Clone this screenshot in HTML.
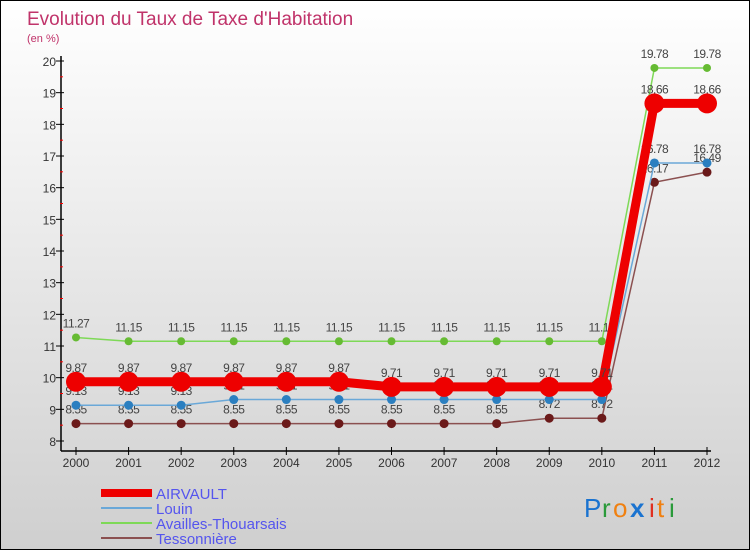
<!DOCTYPE html>
<html><head><meta charset="utf-8"><style>
body{margin:0;}
#wrap{width:748px;height:548px;border:1px solid #000;background:linear-gradient(#ffffff,#cfcfcf);position:relative;font-family:"Liberation Sans",sans-serif;overflow:hidden}
svg{position:absolute;left:0;top:0}
</style></head><body>
<div id="wrap">
<svg id="c" width="750" height="550">
<text x="26" y="24" font-size="19" fill="#c0336a">Evolution du Taux de Taxe d'Habitation</text>
<text x="26" y="41" font-size="11" fill="#c0336a">(en %)</text>
<g id="axes"></g><g id="series"></g><g id="legend"></g>
<g font-size="26" font-family="'Liberation Sans',sans-serif">
<text x="583" y="516" fill="#1a73d0">P</text><text x="601" y="516" fill="#2a9a3a">r</text><text x="612" y="516" fill="#f08010">o</text><text x="629" y="516" fill="#1a73d0" font-weight="bold">x</text><text x="648" y="516" fill="#e03020">i</text><text x="656" y="516" fill="#f08010">t</text><text x="668" y="516" fill="#2a9a3a">i</text>
</g>
</svg></div>
<script>
const years=["2000","2001","2002","2003","2004","2005","2006","2007","2008","2009","2010","2011","2012"];
const airvault=[9.87,9.87,9.87,9.87,9.87,9.87,9.71,9.71,9.71,9.71,9.71,18.66,18.66];
const louin=[9.13,9.13,9.13,9.31,9.31,9.31,9.31,9.31,9.31,9.31,9.31,16.78,16.78];
const availles=[11.27,11.15,11.15,11.15,11.15,11.15,11.15,11.15,11.15,11.15,11.15,19.78,19.78];
const tesso=[8.55,8.55,8.55,8.55,8.55,8.55,8.55,8.55,8.55,8.72,8.72,16.17,16.49];
const yTicks=[8,9,10,11,12,13,14,15,16,17,18,19,20];
const NS="http://www.w3.org/2000/svg";
const X=i=>75+i*(706-75)/(years.length-1);
const Y=v=>440-(v-8)*(380/12);
function mk(tag,attrs,parent,txt){const e=document.createElementNS(NS,tag);for(const k in attrs)e.setAttribute(k,attrs[k]);if(txt!==undefined)e.textContent=txt;parent.appendChild(e);return e;}
const ax=document.getElementById('axes');
let l=mk('line',{x1:60,y1:55,x2:60,y2:450,stroke:'#000','stroke-width':1.5},ax);

l=mk('line',{x1:60,y1:450,x2:710,y2:450,stroke:'#000','stroke-width':1.5},ax);

yTicks.forEach(v=>{mk('line',{x1:55,y1:Y(v),x2:63,y2:Y(v),stroke:'#000'},ax);
 if(v<20)mk('line',{x1:59,y1:Y(v+0.5),x2:62,y2:Y(v+0.5),stroke:'#f00'},ax);
 const t=mk('text',{x:55,y:Y(v)+5,'text-anchor':'end','font-size':12,fill:'#333'},ax,String(v));
 });
years.forEach((y,i)=>{mk('line',{x1:X(i),y1:446,x2:X(i),y2:454,stroke:'#000'},ax);
 const t=mk('text',{x:X(i),y:466,'text-anchor':'middle','font-size':12,fill:'#333'},ax,y);
 });
const sg=document.getElementById('series');
const defs=[[availles,'#7ed957','#66bb33',1.5,4,'availles'],[tesso,'#8b5050','#6b1a1a',1.5,4.5,'tessonniere'],[louin,'#6aa8d8','#2b7fc0',1.5,4.5,'louin'],[airvault,'#ee0000','#ee0000',9,10,'airvault']];
defs.forEach(([d,lc,pc,w,r,n])=>{
 const p=mk('polyline',{points:d.map((v,i)=>X(i)+','+Y(v)).join(' '),fill:'none',stroke:lc,'stroke-width':w},sg);
 
 d.forEach((v,i)=>{const c=mk('circle',{cx:X(i),cy:Y(v),r:r,fill:pc},sg);
  
  const t=mk('text',{x:X(i),y:Y(v)-10,'text-anchor':'middle','font-size':12,fill:'#444','letter-spacing':'-0.5'},sg,String(v));
  });
});
const lg=document.getElementById('legend');
[['AIRVAULT','#ee0000',8],['Louin','#6aa8d8',2],['Availles-Thouarsais','#7ed957',2],['Tessonnière','#8b5050',2]].forEach(([n,c,w],i)=>{
 const y=492+i*15;
 const ln=mk('line',{x1:100,y1:y,x2:151,y2:y,stroke:c,'stroke-width':w},lg);
 
 const t=mk('text',{x:155,y:y+6,'font-size':15,fill:'#5555ee'},lg,n);
 
});
</script>
</body></html>
